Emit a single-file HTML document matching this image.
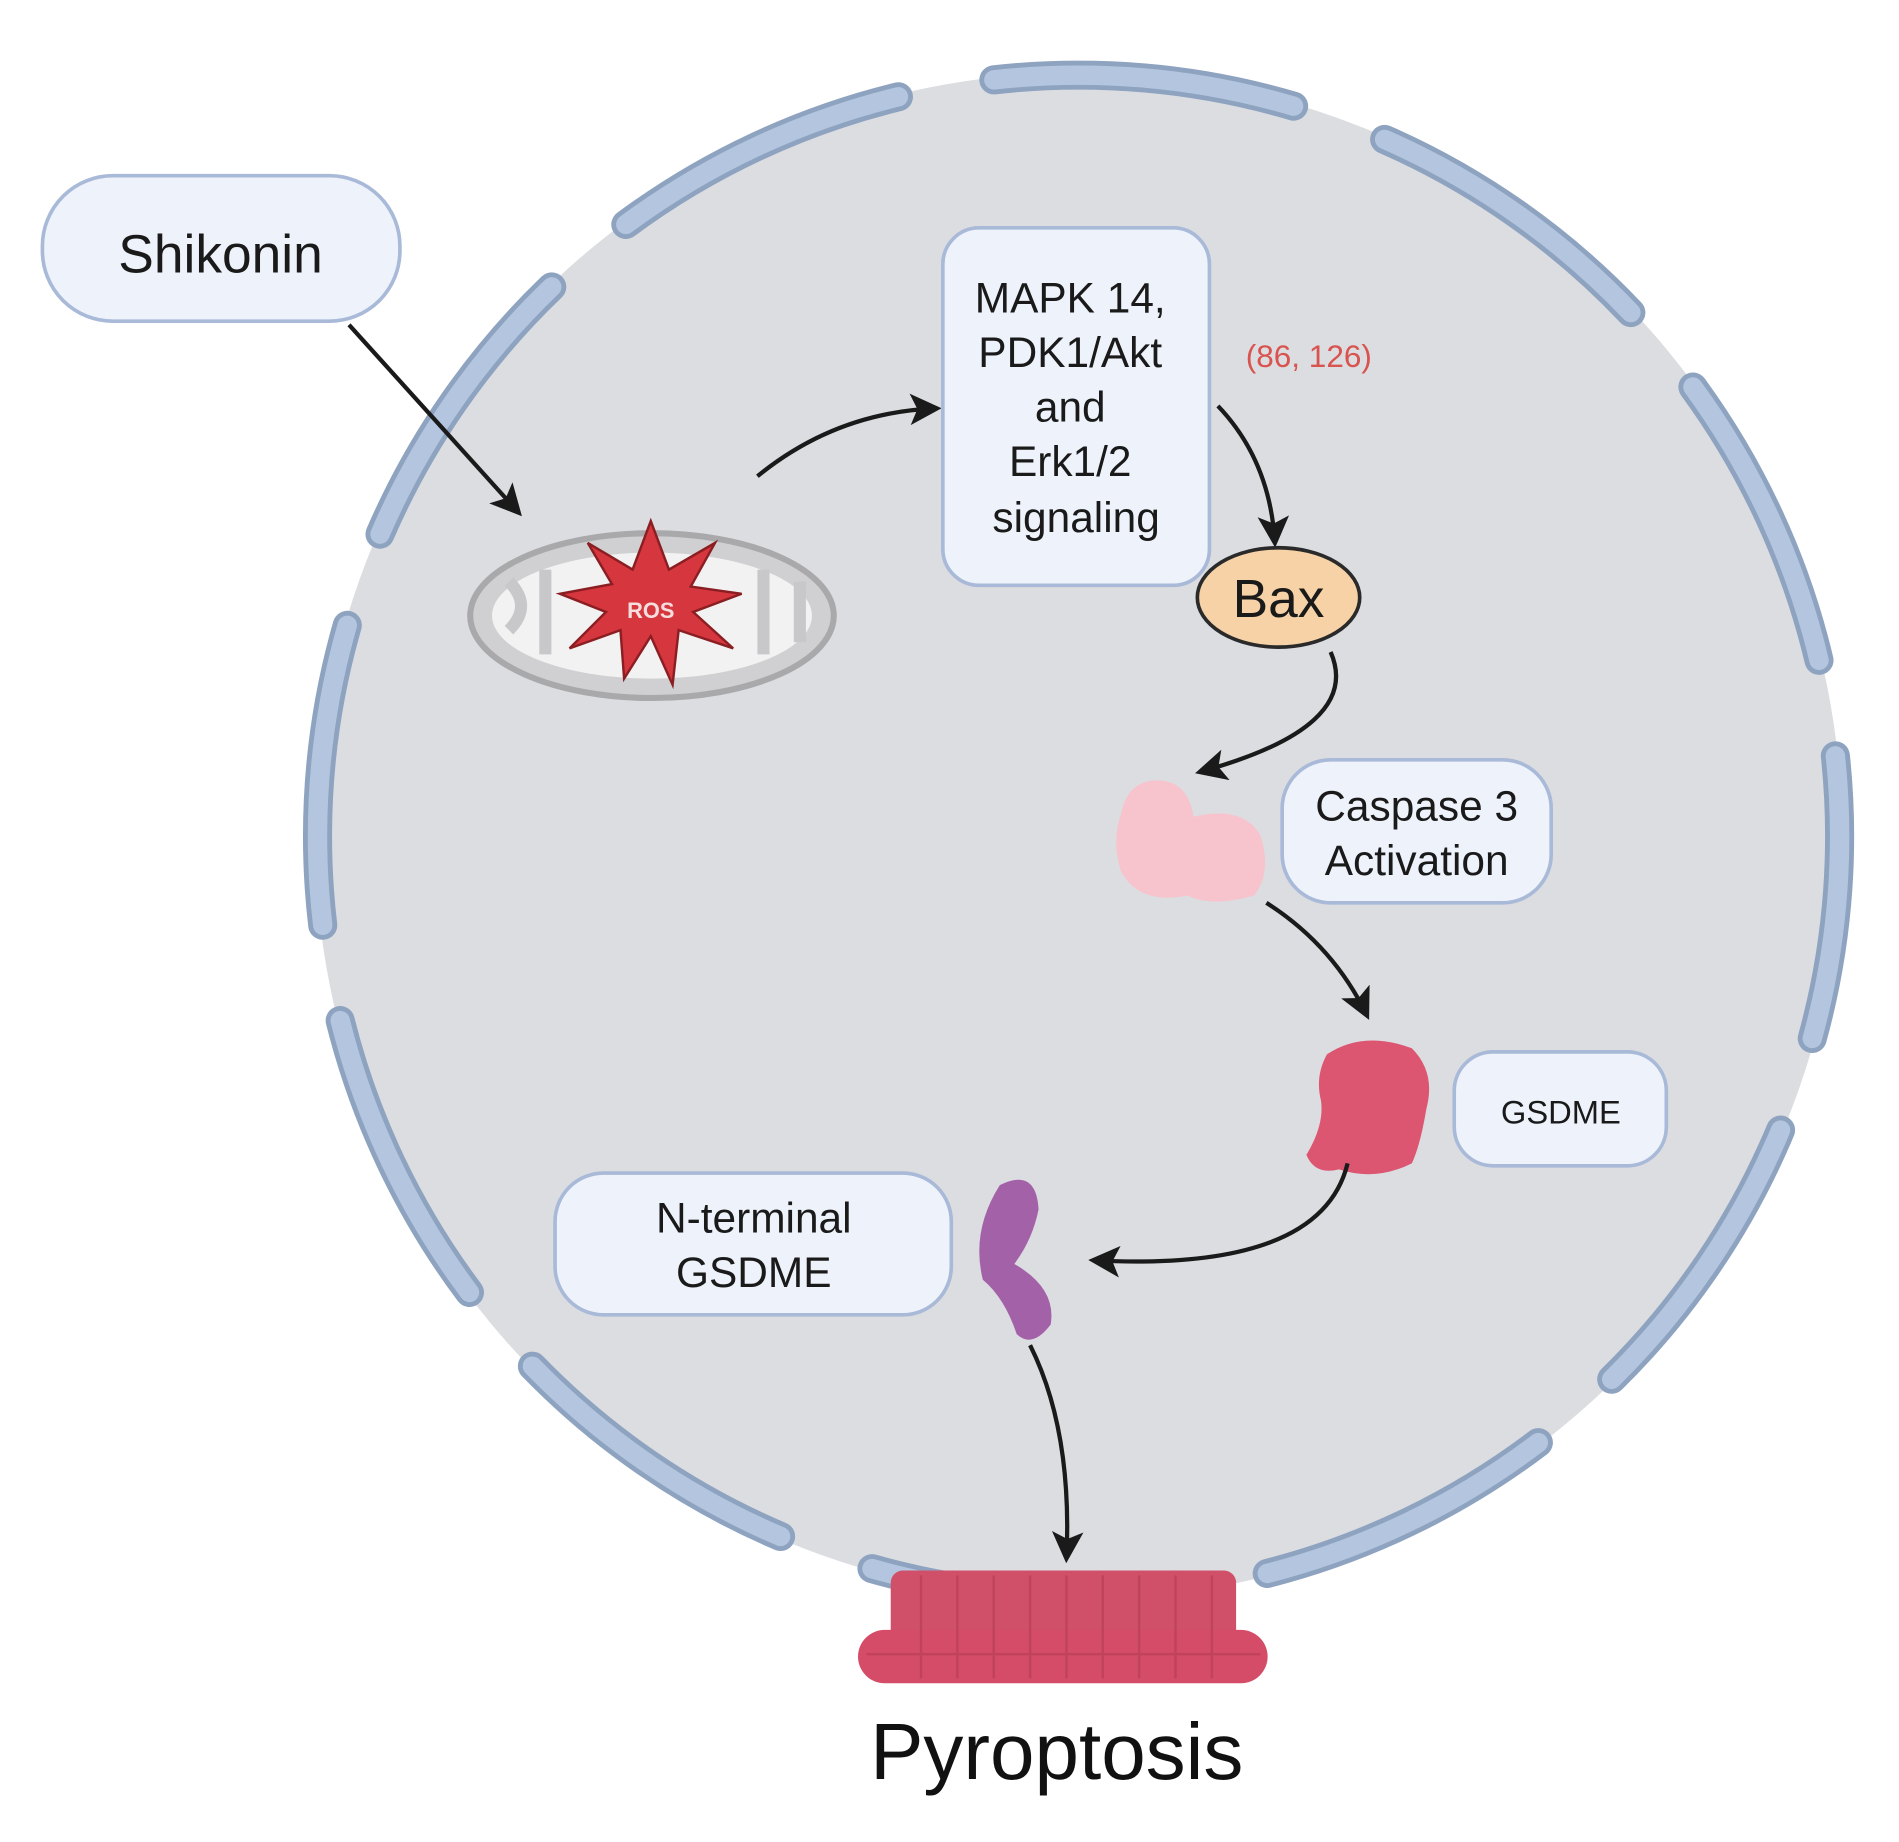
<!DOCTYPE html>
<html><head><meta charset="utf-8"><style>
html,body{margin:0;padding:0;background:#fff}
svg{display:block}
text{font-family:"Liberation Sans",sans-serif;fill:#1a1a1a}
</style></head><body>
<svg width="1899" height="1842" viewBox="0 0 1567 1520" preserveAspectRatio="none">
<defs>
<marker id="a" viewBox="0 0 26 26" refX="22" refY="13" markerWidth="26" markerHeight="26" orient="auto" markerUnits="userSpaceOnUse">
<path d="M0,0 L26,13 L0,26 L6,13 Z" fill="#1a1a1a"/>
</marker>
</defs>
<circle cx="890" cy="690" r="630" fill="#dcdde1"/>
<circle cx="890" cy="690" r="628" fill="none" stroke="#8ea3c0" stroke-width="24" stroke-linecap="round" stroke-dasharray="250 80" stroke-dashoffset="81"/>
<circle cx="890" cy="690" r="628" fill="none" stroke="#b4c6df" stroke-width="16" stroke-linecap="round" stroke-dasharray="250 80" stroke-dashoffset="81"/>

<rect x="35" y="145" width="295" height="120" rx="58" fill="#eef3fb" stroke="#a9b9d8" stroke-width="3"/>
<text x="182" y="225" font-size="44" text-anchor="middle">Shikonin</text>
<path d="M288,268 L428,423" stroke="#1a1a1a" stroke-width="3.5" fill="none" marker-end="url(#a)"/>

<ellipse cx="538" cy="508" rx="150" ry="68" fill="#d0d0d2" stroke="#a9a9ab" stroke-width="5"/>
<ellipse cx="538" cy="508" rx="132" ry="52" fill="#f2f2f2"/>
<path d="M420,480 q20,20 0,40 M450,470 v70 M630,470 v70 M660,480 v50" stroke="#c8c8ca" stroke-width="10" fill="none"/>
<polygon points="537,430 552,470 590,448 570,484 612,490 572,505 605,535 560,520 555,565 537,525 515,560 512,520 470,535 500,505 462,490 505,482 485,448 522,470" fill="#d6363d" stroke="#8b1e22" stroke-width="2"/>
<text x="537" y="510" font-size="18" font-weight="bold" text-anchor="middle" style="fill:#f6dede">ROS</text>

<path d="M625,393 Q690,340 773,337" stroke="#1a1a1a" stroke-width="3.5" fill="none" marker-end="url(#a)"/>

<rect x="778" y="188" width="220" height="295" rx="30" fill="#eef3fb" stroke="#a9b9d8" stroke-width="3"/>
<text font-size="35" text-anchor="middle">
<tspan x="888" y="258">MAPK 14,</tspan>
<tspan x="888" y="303">PDK1/Akt</tspan>
<tspan x="888" y="348">and</tspan>
<tspan x="888" y="393">Erk1/2</tspan>
<tspan x="888" y="439">signaling</tspan>
</text>
<text x="1080" y="303" font-size="26" text-anchor="middle" style="fill:#d9534f">(86, 126)</text>
<path d="M1005,335 Q1048,380 1052,448" stroke="#1a1a1a" stroke-width="3.5" fill="none" marker-end="url(#a)"/>

<ellipse cx="1055" cy="493" rx="67" ry="41" fill="#f6d2a6" stroke="#2a2a2a" stroke-width="3"/>
<text x="1055" y="509" font-size="44" text-anchor="middle">Bax</text>
<path d="M1098,538 Q1125,600 990,637" stroke="#1a1a1a" stroke-width="3.5" fill="none" marker-end="url(#a)"/>

<path d="M925,672 q5,-28 30,-28 q25,0 30,30 q40,-10 55,15 q10,30 -5,50 q-35,10 -55,0 q-40,8 -55,-20 q-8,-25 0,-47 Z" fill="#f7c4cd"/>
<rect x="1058" y="627" width="222" height="118" rx="40" fill="#eef3fb" stroke="#a9b9d8" stroke-width="3"/>
<text font-size="35" text-anchor="middle"><tspan x="1169" y="677">Caspase 3</tspan><tspan x="1169" y="722">Activation</tspan></text>
<path d="M1045,745 Q1100,780 1128,838" stroke="#1a1a1a" stroke-width="3.5" fill="none" marker-end="url(#a)"/>

<path d="M1095,870 q30,-20 70,-5 q20,20 12,50 q-5,30 -12,45 q-30,15 -60,5 q-20,5 -27,-12 q15,-25 12,-45 q-5,-20 5,-38 Z" fill="#dc5672"/>
<rect x="1200" y="868" width="175" height="94" rx="32" fill="#eef3fb" stroke="#a9b9d8" stroke-width="3"/>
<text x="1288" y="927" font-size="27" text-anchor="middle">GSDME</text>
<path d="M1112,960 Q1090,1050 902,1040" stroke="#1a1a1a" stroke-width="3.5" fill="none" marker-end="url(#a)"/>

<path d="M825,978 q30,-15 32,20 q-5,25 -20,45 q35,20 30,50 q-15,20 -28,8 q-10,-30 -28,-45 q-10,-40 14,-78 Z" fill="#a362a8"/>
<rect x="458" y="968" width="327" height="117" rx="40" fill="#eef3fb" stroke="#a9b9d8" stroke-width="3"/>
<text font-size="35" text-anchor="middle"><tspan x="622" y="1017">N-terminal</tspan><tspan x="622" y="1062">GSDME</tspan></text>
<path d="M850,1110 Q885,1180 880,1286" stroke="#1a1a1a" stroke-width="3.5" fill="none" marker-end="url(#a)"/>

<rect x="735" y="1296" width="285" height="60" rx="10" fill="#d05069"/>
<rect x="708" y="1345" width="338" height="44" rx="22" fill="#d44c68"/>
<g stroke="#b83e57" stroke-width="2" opacity="0.7">
<path d="M760,1300 v85 M790,1300 v85 M820,1300 v85 M850,1300 v85 M880,1300 v85 M910,1300 v85 M940,1300 v85 M970,1300 v85 M1000,1300 v85 M715,1365 H1040"/>
</g>

<text x="872" y="1468" font-size="66" text-anchor="middle" style="fill:#111">Pyroptosis</text>
</svg>
</body></html>
